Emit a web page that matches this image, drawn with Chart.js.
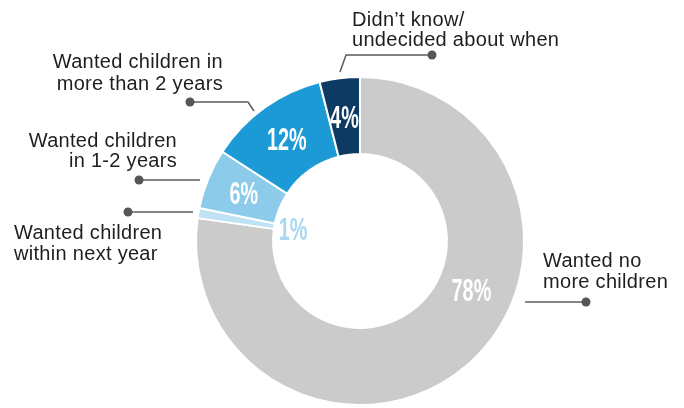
<!DOCTYPE html>
<html><head><meta charset="utf-8">
<script src="https://cdn.jsdelivr.net/npm/chart.js@4"></script>
<style>html,body{margin:0;padding:0;background:#fff}#wrap{width:684px;height:408px;position:relative}</style>
</head><body><div id="wrap"><canvas id="c" width="684" height="408"></canvas></div>
<script>
const categories = ["Wanted no more children","Wanted children within next year","Wanted children in 1-2 years","Wanted children in more than 2 years","Didn’t know/undecided about when"];
const values = [78, 1, 6, 12, 4];
const valueLabels = ["78%", "1%", "6%", "12%", "4%"];
const calloutLines = [
  ["Wanted no", "more children"],
  ["Wanted children", "within next year"],
  ["Wanted children", "in 1-2 years"],
  ["Wanted children in", "more than 2 years"],
  ["Didn’t know/", "undecided about when"]
];
const sliceColors = ["#cbcbcb", "#bfe3f5", "#8ccbea", "#1b9ad6", "#0c3a62"];

// presentation settings (not data)
const labelStyle = [
  {color:"#ffffff", rFrac:0.45, angleDeg:113.6},
  {color:"#a9d9f2", rAbs:-19},
  {color:"#ffffff", rFrac:0.5},
  {color:"#ffffff", rFrac:0.5},
  {color:"#ffffff", rFrac:0.5}
];
const callouts = [
  {align:"left",  x:543, y:[267,288], pts:[[525,302],[586,302]], dot:1},
  {align:"left",  x:14,  y:[239,260], pts:[[128,212],[193,212]], dot:0},
  {align:"right", x:177, y:[147,167], pts:[[139,180],[200,180]], dot:0},
  {align:"right", x:223, y:[68,90],   pts:[[190,102],[248,102],[254,111]], dot:0},
  {align:"left",  x:352, y:[26,46],   pts:[[432,55],[346,55],[340,72]], dot:0}
];

const labelPlugin = {
  id: 'labels',
  afterDatasetsDraw(chart) {
    const ctx = chart.ctx;
    const meta = chart.getDatasetMeta(0);
    meta.data.forEach((arc, i) => {
      const p = arc.getProps(['x','y','startAngle','endAngle','innerRadius','outerRadius'], true);
      const st = labelStyle[i];
      let ang = (p.startAngle + p.endAngle) / 2;
      if (st.angleDeg !== undefined) ang = -Math.PI/2 + st.angleDeg * Math.PI/180;
      let r = st.rAbs !== undefined ? p.innerRadius + st.rAbs : p.innerRadius + (p.outerRadius - p.innerRadius) * st.rFrac;
      const x = p.x + Math.cos(ang) * r, y = p.y + Math.sin(ang) * r;
      ctx.save();
      ctx.translate(x, y + 11);
      ctx.scale(0.64, 1);
      ctx.font = 'bold 31px "Liberation Sans", Arial, sans-serif';
      ctx.fillStyle = st.color;
      ctx.textAlign = 'center';
      ctx.textBaseline = 'alphabetic';
      ctx.fillText(valueLabels[i], 0, 0);
      ctx.restore();
    });
    callouts.forEach((c, i) => {
      ctx.save();
      ctx.strokeStyle = '#5a5b5d';
      ctx.lineWidth = 1.5;
      ctx.beginPath();
      c.pts.forEach((pt, k) => k ? ctx.lineTo(pt[0], pt[1]) : ctx.moveTo(pt[0], pt[1]));
      ctx.stroke();
      const d = c.dot ? c.pts[c.pts.length-1] : c.pts[0];
      ctx.fillStyle = '#55565a';
      ctx.beginPath(); ctx.arc(d[0], d[1], 4.5, 0, Math.PI*2); ctx.fill();
      ctx.fillStyle = '#1e1e1e';
      ctx.font = '20px "Liberation Sans", Arial, sans-serif';
      ctx.letterSpacing = '0.3px';
      ctx.textAlign = c.align;
      ctx.textBaseline = 'alphabetic';
      calloutLines[i].forEach((t, k) => ctx.fillText(t, c.x, c.y[k]));
      ctx.restore();
    });
  }
};

new Chart(document.getElementById('c'), {
  type: 'doughnut',
  data: {
    labels: categories,
    datasets: [{
      data: values,
      backgroundColor: sliceColors,
      borderColor: '#ffffff',
      borderWidth: 2,
      hoverOffset: 0
    }]
  },
  options: {
    responsive: false,
    animation: false,
    cutout: '53%',
    layout: { padding: { left: 195, right: 159, top: 76, bottom: 2 } },
    plugins: { legend: { display: false }, tooltip: { enabled: false } }
  },
  plugins: [labelPlugin]
});
</script>
</body></html>
